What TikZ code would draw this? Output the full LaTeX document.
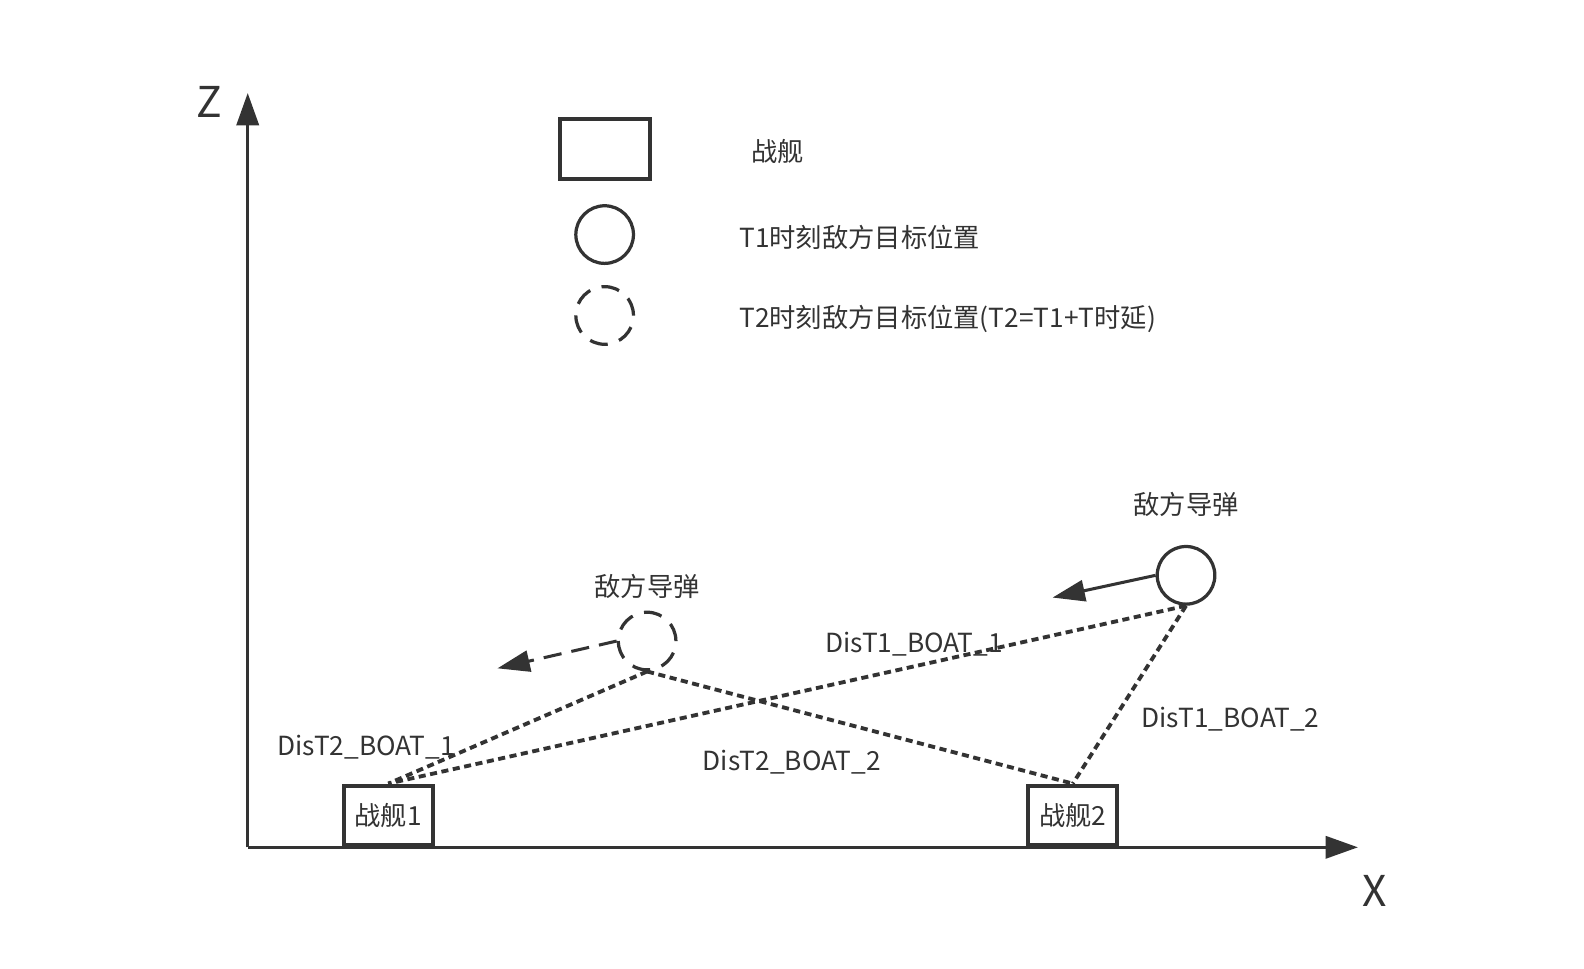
\documentclass[tikz,border=0pt]{standalone}
\usepackage{fontspec}
\setmainfont{Noto Sans CJK SC}
\usetikzlibrary{arrows.meta}
\definecolor{ink}{HTML}{333333}
\tikzset{
  every node/.style={font=\fontsize{26}{30}\selectfont, text=ink},
  axis/.style={draw=ink, line width=3pt, -{Triangle[length=32pt,width=22pt]}},
  shipbox/.style={draw=ink, line width=4pt, minimum width=88pt, minimum height=59pt, inner sep=0pt},
  tgt/.style={circle, draw=ink, line width=3.2pt, minimum size=57pt, inner sep=0pt},
  tgtdash/.style={tgt, dash pattern=on 18pt off 11.8pt},
  distline/.style={draw=ink, line width=3.8pt, dash pattern=on 7pt off 4.5pt},
  move/.style={draw=ink, line width=3pt, -{Triangle[length=32pt,width=21pt]}},
  movedash/.style={move, dash pattern=on 18pt off 10pt},
  lbl/.style={inner sep=0pt},
  axlbl/.style={font=\fontsize{42}{48}\selectfont, inner sep=0pt}
}
\begin{document}
\begin{tikzpicture}[x=1pt,y=-1pt]
\useasboundingbox (0,0) rectangle (1566.6,957.4);
% axes
\coordinate (o) at (245,838);
\coordinate (ztip) at (245,92);
\coordinate (xtip) at (1343,838);
\draw[axis] (o) -- (ztip);
\draw[axis] (o) -- (xtip);
\node[axlbl] (zl) at (207,101) {Z};
\node[axlbl] (xl) at (1360,881) {X};
% legend
\node[shipbox, minimum width=89pt, minimum height=60pt] (lgship) at (598,147.5) {};
\node[tgt] (lgt1) at (598,232) {};
\node[tgtdash] (lgt2) at (598,312) {};
\node[lbl, anchor=west] (lgshipt) at (743,150) {战舰};
\node[lbl, anchor=west] (lgt1t) at (731,235) {T1时刻敌方目标位置};
\node[lbl, anchor=west] (lgt2t) at (731,315) {T2时刻敌方目标位置(T2=T1+T时延)};
% ships
\node[shipbox] (ship1) at (384,806.5) {战舰1};
\node[shipbox] (ship2) at (1061,806.5) {战舰2};
% targets
\node[tgt] (t1) at (1173,569) {};
\node[tgtdash] (t2) at (640,634) {};
\node[lbl] (t1l) at (1173,499) {敌方导弹};
\node[lbl] (t2l) at (640,580) {敌方导弹};
% motion arrows
\coordinate (t1end) at (1041,591);
\coordinate (t2end) at (492,661);
\draw[move] (t1.west) -- (t1end);
\draw[movedash] (t2.west) -- (t2end);
% distance lines
\draw[distline] (t1.south) -- (ship1.north);
\draw[distline] (t1.south) -- (ship2.north);
\draw[distline] (t2.south) -- (ship1.north);
\draw[distline] (t2.south) -- (ship2.north);
% distance labels
\node[lbl] (d11) at (904,637) {DisT1\_BOAT\_1};
\node[lbl] (d12) at (1217,711) {DisT1\_BOAT\_2};
\node[lbl] (d21) at (362,739) {DisT2\_BOAT\_1};
\node[lbl] (d22) at (783,754) {DisT2\_BOAT\_2};
\end{tikzpicture}
\end{document}
